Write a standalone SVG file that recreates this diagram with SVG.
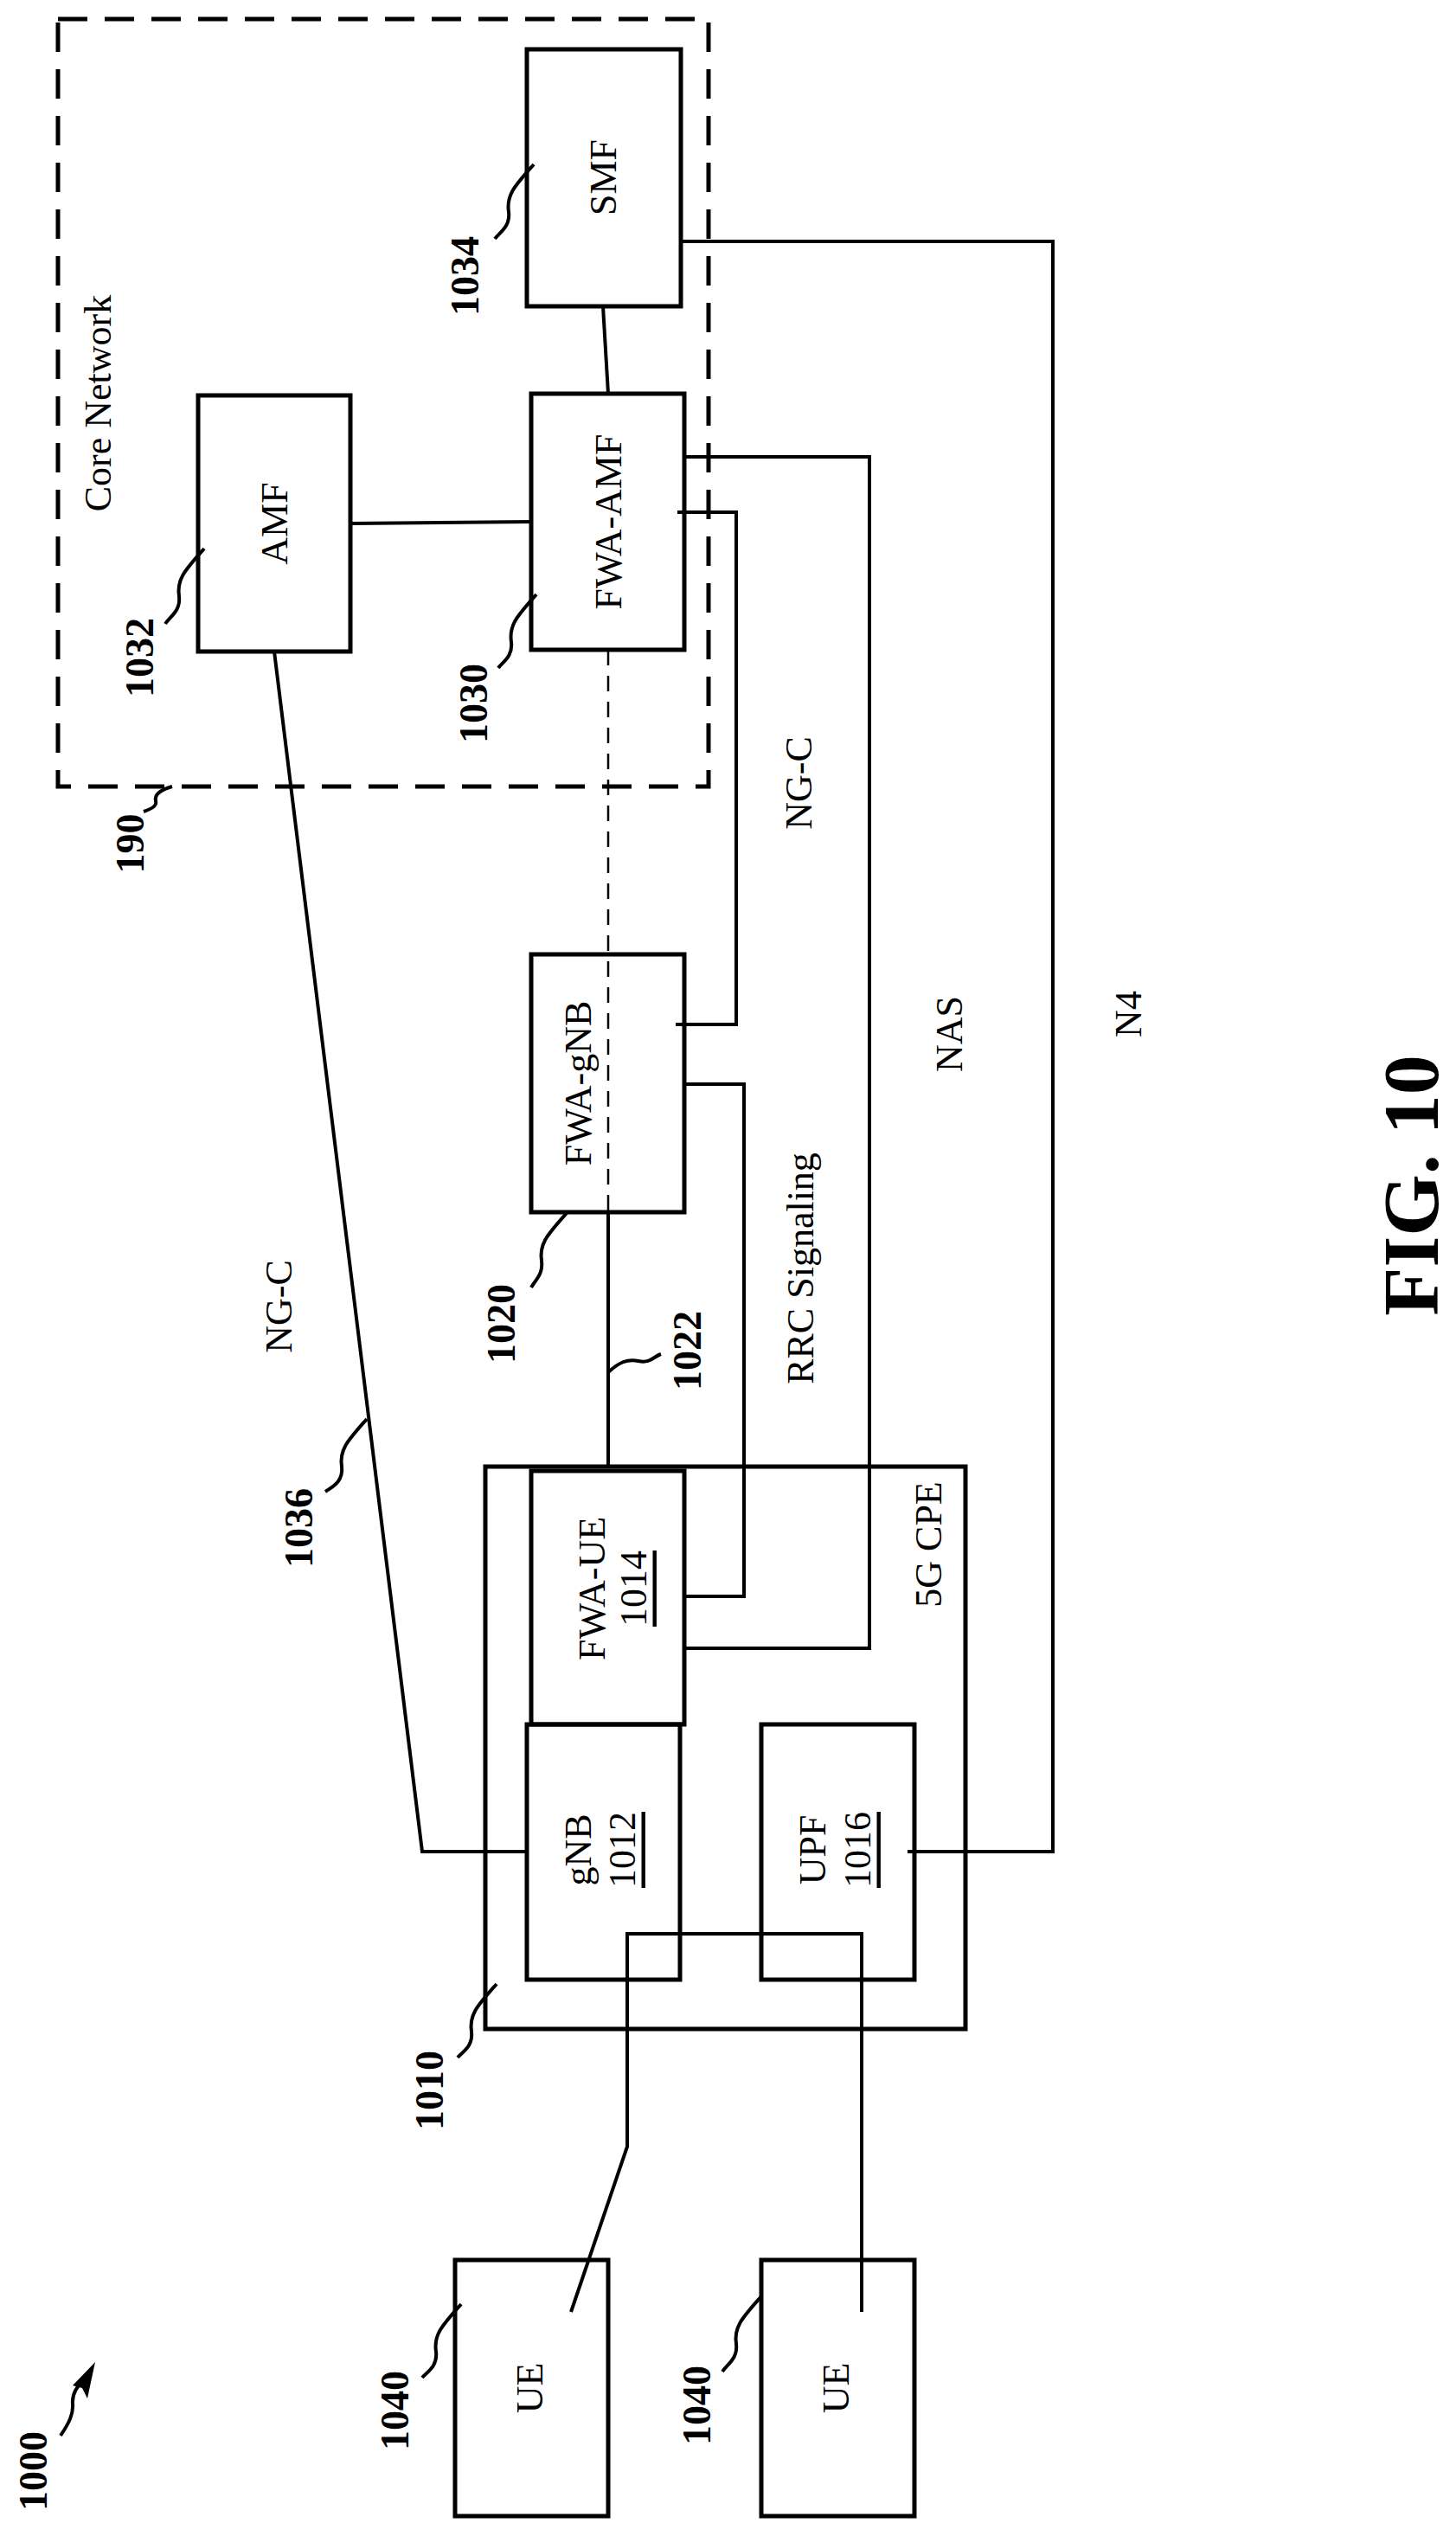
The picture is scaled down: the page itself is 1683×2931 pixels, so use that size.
<svg xmlns="http://www.w3.org/2000/svg" width="1683" height="2931" viewBox="0 0 1683 2931">
<style>
.b{fill:none;stroke:#000;stroke-width:5}
.l{fill:none;stroke:#000;stroke-width:4}
.t{font-family:"Liberation Serif",serif;font-size:44px;text-anchor:middle;dominant-baseline:central}
.n{font-family:"Liberation Serif",serif;font-size:46px;font-weight:bold;text-anchor:middle;dominant-baseline:central}
</style>
<rect width="1683" height="2931" fill="#fff"/>
<g id="core"><rect x="67" y="22" width="752" height="887" fill="none" stroke="#000" stroke-width="5" stroke-dasharray="34,20"/>
<text class="t" transform="translate(113,466) rotate(-90)">Core Network</text></g>
<g id="smf"><rect class="b" x="609" y="57" width="178" height="297"/><text class="t" transform="translate(697,205) rotate(-90)">SMF</text></g>
<g id="amf"><rect class="b" x="229" y="457" width="176" height="296"/><text class="t" transform="translate(317,605) rotate(-90)">AMF</text></g>
<g id="fwaamf"><rect class="b" x="614" y="455" width="177" height="296"/><text class="t" transform="translate(703,603) rotate(-90)">FWA-AMF</text></g>
<g id="fwagnb"><rect class="b" x="614" y="1103" width="177" height="298"/><text class="t" transform="translate(668,1252) rotate(-90)">FWA-gNB</text></g>
<g id="cpe"><rect class="b" x="561" y="1695" width="555" height="650"/><text class="t" transform="translate(1073,1785) rotate(-90)">5G CPE</text></g>
<g id="fwaue"><rect class="b" x="614" y="1700" width="177" height="293" fill="#fff"/><text class="t" transform="translate(684,1836) rotate(-90)">FWA-UE</text><text class="t" text-decoration="underline" transform="translate(732,1836) rotate(-90)">1014</text></g>
<g id="gnb"><rect class="b" x="609" y="1993" width="177" height="295"/><text class="t" transform="translate(668,2138) rotate(-90)">gNB</text><text class="t" text-decoration="underline" transform="translate(719,2138) rotate(-90)">1012</text></g>
<g id="upf"><rect class="b" x="880" y="1993" width="177" height="295"/><text class="t" transform="translate(939,2138) rotate(-90)">UPF</text><text class="t" text-decoration="underline" transform="translate(991,2138) rotate(-90)">1016</text></g>
<g id="ue1"><rect class="b" x="526" y="2612" width="177" height="296"/><text class="t" transform="translate(612,2760) rotate(-90)">UE</text></g>
<g id="ue2"><rect class="b" x="880" y="2612" width="177" height="296"/><text class="t" transform="translate(966,2760) rotate(-90)">UE</text></g>
<g id="connectors">
<line class="l" x1="697" y1="354" x2="703" y2="455"/>
<line class="l" x1="405" y1="605" x2="614" y2="603"/>
<polyline class="l" points="787,279 1217,279 1217,2140 1049,2140"/>
<polyline class="l" points="791,528 1005,528 1005,1905 791,1905"/>
<polyline class="l" points="783,592 851,592 851,1184 781,1184"/>
<polyline class="l" points="791,1253 860,1253 860,1845 791,1845"/>
<line x1="703" y1="751" x2="703" y2="1401" stroke="#000" stroke-width="2.5" stroke-dasharray="18,12"/>
<line class="l" x1="703" y1="1401" x2="703" y2="1695"/>
<polyline class="l" points="317,753 488,2140 609,2140"/>
<polyline class="l" points="660,2672 725,2481 725,2235 996,2235 996,2672"/>
</g>
<g id="labels">
<text class="t" transform="translate(923,905) rotate(-90)">NG-C</text>
<text class="t" transform="translate(322,1510) rotate(-90)">NG-C</text>
<text class="t" transform="translate(925,1466) rotate(-90)">RRC Signaling</text>
<text class="t" transform="translate(1097,1195) rotate(-90)">NAS</text>
<text class="t" transform="translate(1304,1172) rotate(-90)">N4</text>
<text class="n" style="font-size:92px" transform="translate(1631,1370) rotate(-90)">FIG. 10</text>
<text class="n" transform="translate(537,319) rotate(-90)">1034</text>
<text class="n" transform="translate(161,760) rotate(-90)">1032</text>
<text class="n" transform="translate(547,813) rotate(-90)">1030</text>
<text class="n" transform="translate(150,975) rotate(-90)">190</text>
<text class="n" transform="translate(579,1530) rotate(-90)">1020</text>
<text class="n" transform="translate(794,1561) rotate(-90)">1022</text>
<text class="n" transform="translate(345,1766) rotate(-90)">1036</text>
<text class="n" transform="translate(496,2416) rotate(-90)">1010</text>
<text class="n" transform="translate(456,2786) rotate(-90)">1040</text>
<text class="n" transform="translate(805,2780) rotate(-90)">1040</text>
<text class="n" transform="translate(38,2856) rotate(-90)">1000</text>
<path class="l" d="M617,190 C595,215 585,225 588,245 C590,262 578,268 572,276"/>
<path class="l" d="M236,634 C214,659 204,669 207,689 C209,706 197,712 191,721"/>
<path class="l" d="M620,687 C598,712 588,722 591,742 C593,759 581,765 576,772"/>
<path class="l" d="M199,909 C185,913 178,918 180,926 C182,932 172,936 166,938"/>
<path class="l" d="M655,1402 C633,1427 623,1437 626,1457 C628,1474 618,1480 614,1488"/>
<path class="l" d="M703,1586 C715,1575 725,1570 738,1573 C752,1576 755,1568 764,1565"/>
<path class="l" d="M424,1640 C402,1665 392,1675 395,1695 C397,1712 385,1718 376,1724"/>
<path class="l" d="M574,2293 C552,2318 542,2328 545,2348 C547,2365 535,2371 529,2378"/>
<path class="l" d="M533,2663 C511,2688 501,2698 504,2718 C506,2735 494,2741 488,2748"/>
<path class="l" d="M880,2654 C858,2679 848,2689 851,2709 C853,2726 841,2732 835,2741"/>
<path class="l" d="M70,2815 C80,2800 85,2790 84,2778 C83,2765 92,2755 98,2750"/>
<polygon points="110,2730 84,2757 95,2760 101,2772" fill="#000"/>
</g>
</svg>
